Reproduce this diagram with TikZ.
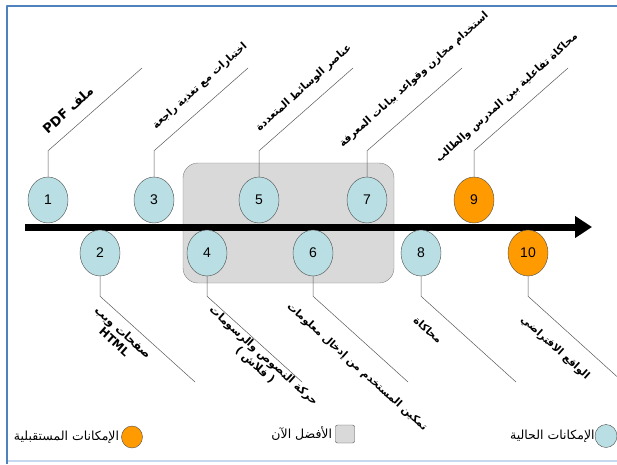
\documentclass[tikz,border=0pt]{standalone}
\usepackage{fontspec}
\setmainfont{Liberation Sans}
\newfontfamily\arabicfont[Script=Arabic]{DejaVu Sans}
\TeXXeTstate=1
\usetikzlibrary{arrows.meta,shapes.geometric}
\definecolor{nowblue}{HTML}{B9DEE3}
\definecolor{lateorange}{HTML}{FF9A00}
\definecolor{framebl}{HTML}{4F81BD}
\definecolor{framelt}{HTML}{C6D9F1}
\newcommand{\artxt}[1]{\beginR #1\endR}
\begin{document}
\begin{tikzpicture}[x=1pt,y=-1pt, line join=round, line cap=round,
	now/.style={ellipse, draw=gray!60!black, fill=nowblue, minimum width=40pt, minimum height=46pt, inner sep=0pt, font=\fontsize{14}{15}\selectfont},
	later/.style={now, fill=lateorange},
	lead/.style={draw=gray!70!black, line width=0.5pt},
	lbl/.style={font=\arabicfont\bfseries\fontsize{10.4}{12.5}\selectfont, align=center, inner sep=0pt},
	up/.style={lbl, rotate=42},
	down/.style={lbl, rotate=-42},
	key/.style={font=\arabicfont\fontsize{12.5}{14}\selectfont, inner sep=0pt}]
	\useasboundingbox (0,0) rectangle (617,464);
	% frame
	\draw[framelt, line width=1.5pt] (7,461)--(617,461);
	\draw[framebl, line width=2pt, line cap=butt] (7,464)--(7,6)--(617,6);
	% best now
	\draw[gray, fill=gray!30, rounded corners=15pt] (183,163) rectangle (394,283);
	% time line
	\coordinate (tl) at (25,227);
	\coordinate (tr) at (592,227);
	\draw[line width=7pt, line cap=butt, -{Triangle[length=17pt,width=21pt]}] (tl)--(tr);
	% points
	\node[now] (n1) at (48,200) {1};
	\node[now] (n3) at (154,200) {3};
	\node[now] (n5) at (259,200) {5};
	\node[now] (n7) at (367,200) {7};
	\node[later] (n9) at (474,200) {9};
	\node[now] (n2) at (100,253) {2};
	\node[now] (n4) at (207,253) {4};
	\node[now] (n6) at (313,253) {6};
	\node[now] (n8) at (421,253) {8};
	\node[later] (n10) at (528,253) {10};
	% leaders
	\foreach \i/\x in {1/142,3/248,5/353,7/462,9/568}{
		\coordinate (e\i) at (\x,68);
		\draw[lead] (n\i.north)--++(0,-26)--(e\i);
	}
	\foreach \i/\x in {2/195,4/302,6/408,8/516,10/623}{
		\coordinate (e\i) at (\x,382);
		\draw[lead] (n\i.south)--++(0,20)--(e\i);
	}
	% labels
	\node[up, font=\arabicfont\bfseries\fontsize{13}{14}\selectfont] (t1) at (68,110) {\artxt{ملف PDF}};
	\node[up] (t3) at (200,86) {\artxt{اختبارات مع تغذية راجعة}};
	\node[up] (t5) at (304,88) {\artxt{عناصر الوسائط المتعددة}};
	\node[up] (t7) at (414,80) {\artxt{استخدام مخازن وقواعد بيانات المعرفة}};
	\node[up] (t9) at (507,98) {\artxt{محاكاة تفاعلية بين المدرس والطالب}};
	\node[down, font=\arabicfont\bfseries\fontsize{11.5}{13}\selectfont] (t2) at (119,337) {\artxt{صفحات ويب}\\\artxt{HTML}};
	\node[down, font=\arabicfont\bfseries\fontsize{11}{13}\selectfont] (t4) at (259,361) {\artxt{حركة النصوص والرسومات}\\\artxt{( فلاش )}};
	\node[down] (t6) at (357,367) {\artxt{تمكين المستخدم من إدخال معلومات}};
	\node[down] (t8) at (428,330) {\artxt{محاكاة}};
	\node[down] (t10) at (555,348) {\artxt{الواقع الافتراضي}};
	% key
	\node[later, minimum width=21pt, minimum height=22pt] (k1) at (132,437) {};
	\node[key, anchor=east] (kt1) at ([xshift=-2pt]k1.west) {\artxt{الإمكانات المستقبلية}};
	\node[draw=gray!60!black, fill=gray!30, rounded corners=2pt, minimum width=19pt, minimum height=18pt, inner sep=0pt] (k2) at (345,434) {};
	\node[key, anchor=east] (kt2) at ([xshift=-3pt]k2.west) {\artxt{الأفضل الآن}};
	\node[now, minimum width=22pt, minimum height=23pt] (k3) at (606,436) {};
	\node[key, anchor=east] (kt3) at (k3.west) {\artxt{الإمكانات الحالية}};
\end{tikzpicture}
\end{document}
